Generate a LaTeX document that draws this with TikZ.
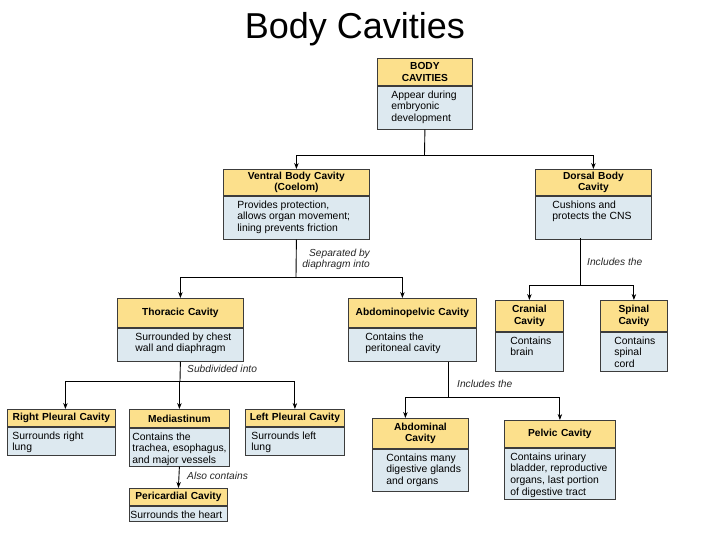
\documentclass[tikz,border=0pt]{standalone}
\usepackage{fontspec}
\setmainfont{Liberation Sans}
\usetikzlibrary{arrows.meta}
\definecolor{hdrc}{RGB}{252,224,140}
\definecolor{bdyc}{RGB}{221,233,240}
\definecolor{edgec}{RGB}{60,60,60}
\tikzset{
 hdr/.style={draw=edgec, fill=hdrc, line width=0.8pt, inner sep=0pt, font=\bfseries\fontsize{10.2}{11.5}\selectfont, align=center, anchor=north west},
 bdy/.style={draw=edgec, fill=bdyc, line width=0.8pt, inner sep=0pt, font=\fontsize{10.4}{11.6}\selectfont, anchor=north west},
 conn/.style={line width=0.9pt, black},
 arr/.style={conn, -{Stealth[length=6pt,width=4.5pt]}},
 lbl/.style={font=\itshape\fontsize{10.2}{11}\selectfont, inner sep=0pt, text=black!85}
}
% name x y w hh bh header body pad
\newcommand\cbox[9]{%
 \node[hdr, minimum width=#4pt, minimum height=#5pt, text width=#4pt] (#1) at (#2,#3) {#7};
 \node[bdy] (#1b) at (#1.south west) {\parbox[b][#6pt][t]{#4pt}{\vspace*{4.5pt}\raggedright\leftskip=#9pt\relax #8\par}};
}
\begin{document}
\begin{tikzpicture}[x=1pt,y=-1pt]
\useasboundingbox (0,0) rectangle (720,540);
\node[font=\fontsize{36}{40}\selectfont, inner sep=0pt] (title) at (355,29) {Body Cavities};

\cbox{top}{377}{58}{95}{27}{43}{BODY\\CAVITIES}{Appear during\\embryonic\\development}{14}
\cbox{ven}{223}{169}{146}{26}{43}{Ventral Body Cavity\\(Coelom)}{Provides protection,\\allows organ movement;\\lining prevents friction}{14}
\cbox{dor}{535}{169}{116}{26}{43}{Dorsal Body\\Cavity}{Cushions and\\protects the CNS}{17}
\cbox{tho}{117}{298}{126}{29}{33}{Thoracic Cavity}{Surrounded by chest\\wall and diaphragm}{18}
\cbox{abp}{348}{298}{128}{29}{33}{Abdominopelvic Cavity}{Contains the\\peritoneal cavity}{17}
\cbox{cra}{495}{300}{68}{31}{39}{Cranial\\Cavity}{Contains\\brain}{15}
\cbox{spi}{600}{300}{67}{31}{39}{Spinal\\Cavity}{Contains\\spinal\\cord}{14}
\cbox{rpl}{7}{409}{108}{17}{28}{Right Pleural Cavity}{Surrounds right\\lung}{5}
\cbox{med}{129}{409}{100}{18}{38}{Mediastinum}{Contains the\\trachea, esophagus,\\and major vessels}{3}
\cbox{lpl}{245}{409}{99}{17}{28}{Left Pleural Cavity}{Surrounds left\\lung}{6}
\cbox{per}{129}{488}{98}{17}{15}{Pericardial Cavity}{Surrounds the heart}{1}
\cbox{abd}{372}{418}{96}{30}{42}{Abdominal\\Cavity}{Contains many\\digestive glands\\and organs}{14}
\cbox{pel}{504}{420}{111}{27}{51}{Pelvic Cavity}{Contains urinary\\bladder, reproductive\\organs, last portion\\of digestive tract}{6}

% connectors
\coordinate (j1) at (424.5,155);
\draw[conn] (topb.south) -- (j1);
\draw[arr] (j1) -| (ven.north);
\draw[arr] (j1) -| (dor.north);

\coordinate (j2) at (296,277);
\draw[conn] (venb.south) -- (j2);
\draw[arr] (j2) -| (tho.north);
\draw[arr] (j2) -| ([xshift=-10pt]abp.north);

\coordinate (d0) at (580,238);
\coordinate (j3) at (580,285);
\draw[conn] (d0) -- (j3);
\draw[arr] (j3) -| (cra.north);
\draw[arr] (j3) -| (spi.north);

\coordinate (j4) at (180,381);
\draw[conn] (thob.south) -- (j4);
\draw[arr] (j4) -| ([xshift=4pt]rpl.north);
\draw[arr] (j4) -| (med.north);
\draw[arr] (j4) -| (lpl.north);

\draw[arr] (medb.south) -- (per.north);

\coordinate (a0) at (448,331);
\coordinate (j5) at (448,397);
\draw[conn] (abpb.south -| a0) -- (j5);
\draw[arr] (j5) -| ([xshift=-15pt]abd.north);
\draw[arr] (j5) -| (pel.north);

% labels
\node[lbl, align=right, anchor=north east] (t1) at (370,249) {Separated by\\diaphragm into};
\node[lbl, anchor=north west] (t2) at (587,258) {Includes the};
\node[lbl, anchor=north west] (t3) at (187,365) {Subdivided into};
\node[lbl, anchor=north west] (t4) at (187,472) {Also contains};
\node[lbl, anchor=north west] (t5) at (457,380) {Includes the};
\end{tikzpicture}
\end{document}
